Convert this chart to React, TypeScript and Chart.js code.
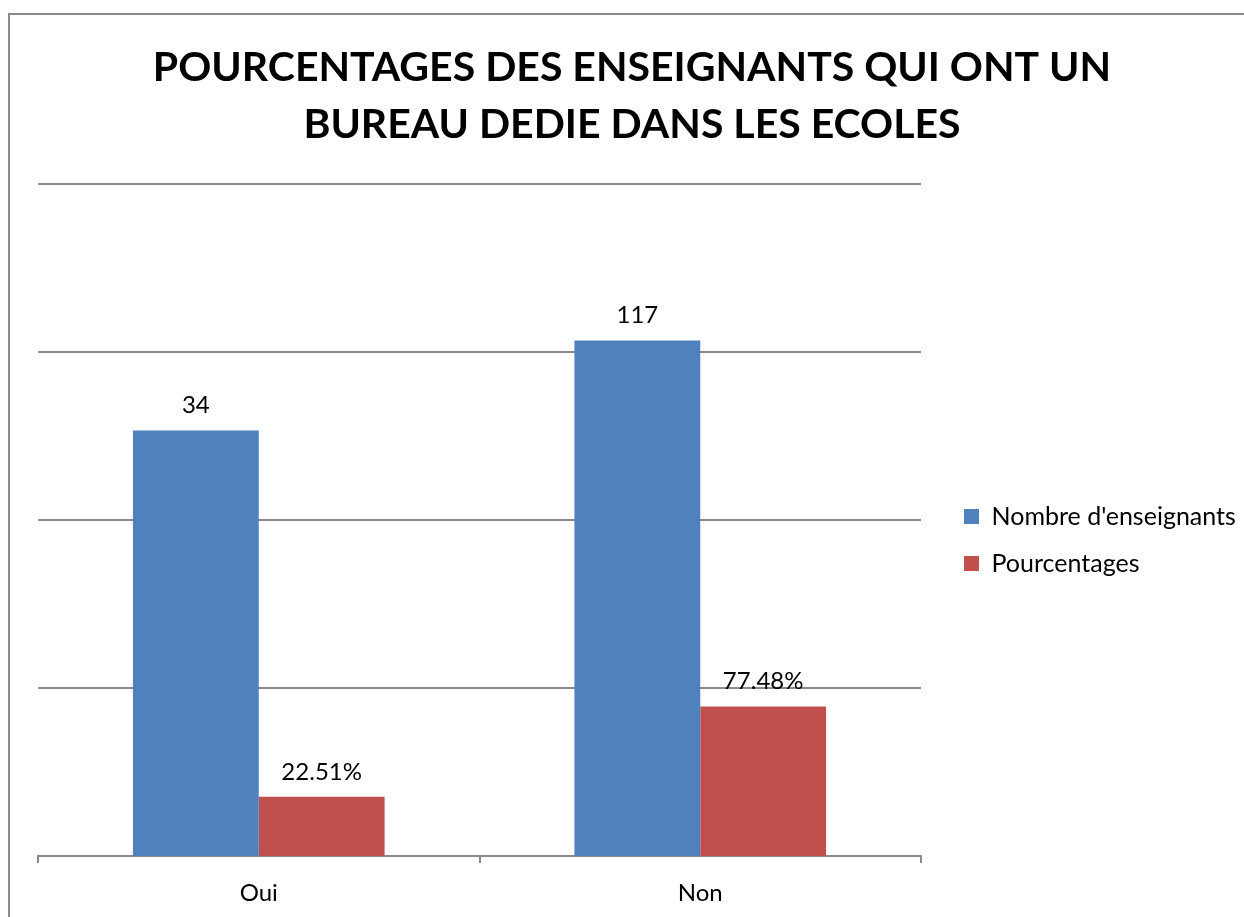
import React, { useEffect, useRef } from "react";
import { Chart, registerables } from "chart.js";

Chart.register(...registerables);

const TITLE_LINES = ["POURCENTAGES DES ENSEIGNANTS QUI ONT UN", "BUREAU DEDIE DANS LES ECOLES"];
const CATEGORIES = ["Oui", "Non"];
const SERIES_NAMES = ["Nombre d'enseignants", "Pourcentages"];
const TEACHER_COUNTS = [34, 117];
const PERCENTAGES = [0.2251, 0.7748];
const Y_GRID_TICKS = [0.1, 1, 10, 100, 1000];

const FONT = "Lato, 'Open Sans', sans-serif";

export default function App() {
  const canvasRef = useRef<HTMLCanvasElement | null>(null);

  useEffect(() => {
    const canvas = canvasRef.current;
    if (!canvas) return;

    const dataLabels = {
      id: "dataLabels",
      afterDatasetsDraw(chart: any) {
        const ctx = chart.ctx;
        ctx.save();
        ctx.font = `24px ${FONT}`;
        ctx.fillStyle = "#000";
        ctx.textAlign = "center";
        ctx.textBaseline = "middle";
        chart.data.datasets.forEach((ds: any, di: number) => {
          const meta = chart.getDatasetMeta(di);
          meta.data.forEach((bar: any, i: number) => {
            const v = ds.data[i];
            const txt = di === 1 ? (v * 100).toFixed(2) + "%" : String(v);
            ctx.fillText(txt, bar.x, bar.y - 25);
          });
        });
        ctx.restore();
      },
    };

    const legendFix = {
      id: "legendFix",
      beforeLayout(chart: any) {
        const lg = chart.legend;
        if (!lg || lg._patchedFit) return;
        const orig = lg.fit;
        lg.fit = function () {
          orig.call(this);
          this.width = 305;
        };
        lg._patchedFit = true;
      },
      afterLayout(chart: any) {
        const lg = chart.legend;
        if (!lg) return;
        const w = lg.width;
        lg.left = 942;
        lg.right = 942 + w;
        lg.top = 340;
        lg.bottom = 740;
        lg.height = 400;
      },
    };

    const chart = new Chart(canvas, {
      type: "bar",
      data: {
        labels: CATEGORIES,
        datasets: [
          {
            label: SERIES_NAMES[0],
            data: TEACHER_COUNTS,
            backgroundColor: "#4F81BD",
            borderWidth: 0,
            barPercentage: 1,
            categoryPercentage: 0.57,
          },
          {
            label: SERIES_NAMES[1],
            data: PERCENTAGES,
            backgroundColor: "#C0504D",
            borderWidth: 0,
            barPercentage: 1,
            categoryPercentage: 0.57,
          },
        ],
      },
      options: {
        animation: false,
        responsive: false,
        maintainAspectRatio: false,
        layout: { padding: { left: 38, right: 18, top: 0, bottom: 0 } },
        plugins: {
          title: {
            display: true,
            text: TITLE_LINES,
            color: "#000",
            font: { family: FONT, size: 41, weight: "bold", lineHeight: 1.4 },
            padding: { top: 39, bottom: 30 },
          },
          legend: {
            display: true,
            position: "right",
            align: "center",
            labels: {
              color: "#000",
              font: { family: FONT, size: 25 },
              boxWidth: 15,
              boxHeight: 15,
              padding: 22,
            },
          },
          tooltip: { enabled: false },
        },
        scales: {
          x: {
            grid: {
              drawOnChartArea: false,
              drawTicks: true,
              tickLength: 7,
              color: "#8A8A8A",
              lineWidth: 2,
            },
            border: { display: true, color: "#8A8A8A", width: 2 },
            ticks: {
              color: "#000",
              font: { family: FONT, size: 24 },
              padding: 16,
            },
            afterFit(scale: any) {
              scale.height = 61;
            },
          },
          y: {
            type: "logarithmic",
            min: 0.1,
            max: 1000,
            border: { display: false },
            grid: { color: "#8A8A8A", lineWidth: 2, drawTicks: false },
            ticks: { display: false },
            afterBuildTicks(scale: any) {
              scale.ticks = Y_GRID_TICKS.map((v) => ({ value: v }));
            },
            afterFit(scale: any) {
              scale.width = 0;
            },
          },
        },
      },
      plugins: [dataLabels, legendFix],
    });

    return () => chart.destroy();
  }, []);

  return (
    <div>
      <div
        style={{
          position: "fixed",
          left: 8,
          top: 13,
          width: 1300,
          height: 1000,
          border: "2px solid #8A8A8A",
          boxSizing: "border-box",
        }}
      />
      <canvas
        ref={canvasRef}
        width={1244}
        height={917}
        style={{ position: "fixed", left: 0, top: 0, width: 1244, height: 917 }}
      />
    </div>
  );
}
